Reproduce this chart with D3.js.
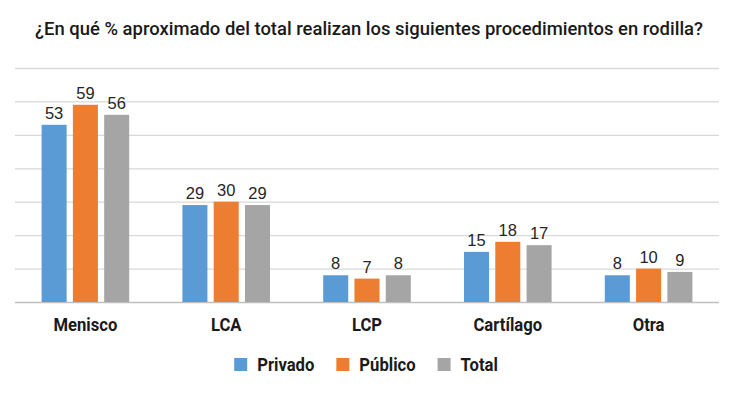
<!DOCTYPE html>
<html>
<head>
<meta charset="utf-8">
<script src="https://cdn.jsdelivr.net/npm/d3@7"></script>
<style>
  body { margin: 0; background: #fff; }
  svg { display: block; }
</style>
</head>
<body>
<div id="chart"></div>
<script>
const categories = ["Menisco", "LCA", "LCP", "Cartílago", "Otra"];
const seriesNames = ["Privado", "Público", "Total"];
const privado = [53, 29, 8, 15, 8];
const publico = [59, 30, 7, 18, 10];
const total = [56, 29, 8, 17, 9];
const gridTicks = [0, 10, 20, 30, 40, 50, 60, 70];
const colors = ["#5b9bd5", "#ed7d31", "#a5a5a5"];

const width = 738, height = 395;
const labelFont = "Roboto, 'Noto Sans', sans-serif";
const squeeze = 0.9; // reference font is a slightly condensed sans

const svg = d3.select("#chart").append("svg")
    .attr("width", width)
    .attr("height", height);

// title
svg.append("text")
    .attr("x", 35)
    .attr("y", 35)
    .attr("textLength", 668)
    .attr("lengthAdjust", "spacingAndGlyphs")
    .style("font-family", labelFont)
    .style("font-size", "19px")
    .style("font-weight", 500)
    .style("fill", "#1a1a1a")
    .text("¿En qué % aproximado del total realizan los siguientes procedimientos en rodilla?");

const x = d3.scaleBand()
    .domain(categories)
    .range([15, 719]);

const xSub = d3.scaleBand()
    .domain(seriesNames)
    .range([-43.8, 43.8])
    .paddingInner(0.2);

const y = d3.scaleLinear()
    .domain([0, 70])
    .range([302, 68]);

// gridlines
svg.append("g")
    .selectAll("line")
    .data(gridTicks)
    .enter()
    .append("line")
    .attr("x1", 15)
    .attr("x2", 719)
    .attr("y1", d => y(d) + 0.5)
    .attr("y2", d => y(d) + 0.5)
    .attr("stroke", d => d === 0 ? "#bfbfbf" : "#d9d9d9")
    .attr("stroke-width", 1.3);

const values = [privado, publico, total];
let rows = [];
seriesNames.forEach((s, si) => {
    categories.forEach((c, ci) => {
        rows.push({ series: s, cat: c, value: values[si][ci], color: colors[si] });
    });
});

const bars = svg.append("g");
bars.selectAll("rect")
    .data(rows)
    .enter()
    .append("rect")
    .attr("x", d => x(d.cat) + x.bandwidth() / 2 + xSub(d.series))
    .attr("y", d => y(d.value))
    .attr("width", xSub.bandwidth())
    .attr("height", d => y(0) - y(d.value))
    .attr("fill", d => d.color);

// data labels
bars.selectAll("text")
    .data(rows)
    .enter()
    .append("text")
    .attr("x", d => x(d.cat) + x.bandwidth() / 2 + xSub(d.series) + xSub.bandwidth() / 2)
    .attr("y", d => y(d.value) - 6)
    .attr("text-anchor", "middle")
    .style("font-family", "'Liberation Sans', Arial, sans-serif")
    .style("font-size", "16.5px")
    .style("fill", "#262626")
    .text(d => d.value);

// category labels
svg.append("g")
    .selectAll("text")
    .data(categories)
    .enter()
    .append("text")
    .attr("transform", d => `translate(${x(d) + x.bandwidth() / 2},331) scale(${squeeze},1)`)
    .attr("text-anchor", "middle")
    .style("font-family", labelFont)
    .style("font-size", "18.5px")
    .style("font-weight", 700)
    .style("fill", "#1a1a1a")
    .text(d => d);

// legend
const legend = svg.append("g");
const items = legend.selectAll("g")
    .data(seriesNames)
    .enter()
    .append("g");
items.append("rect")
    .attr("width", 13)
    .attr("height", 13)
    .attr("y", 358)
    .attr("fill", (d, i) => colors[i]);
items.append("text")
    .attr("transform", `translate(23,371) scale(${squeeze},1)`)
    .style("font-family", labelFont)
    .style("font-size", "18.5px")
    .style("font-weight", 700)
    .style("fill", "#1a1a1a")
    .text(d => d);

let pos = 0;
const offsets = [];
items.each(function() {
    offsets.push(pos);
    const w = d3.select(this).select("text").node().getComputedTextLength() * squeeze;
    pos += 23 + w + 22;
});
const legendWidth = pos - 22;
const startX = 366 - legendWidth / 2;
items.attr("transform", (d, i) => `translate(${startX + offsets[i]},0)`);
</script>
</body>
</html>
